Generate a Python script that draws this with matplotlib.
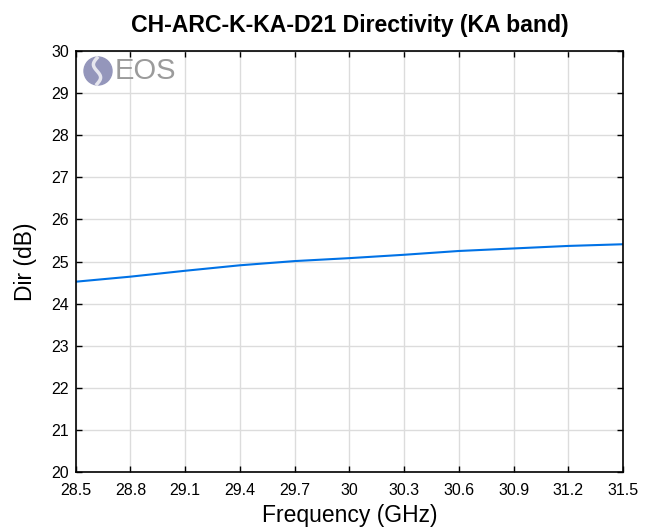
import numpy as np
import matplotlib
matplotlib.use("Agg")
import matplotlib.pyplot as plt
from matplotlib.patches import Circle
from matplotlib.lines import Line2D

plt.rcParams['font.family'] = ['Liberation Sans', 'DejaVu Sans']

# data
freq = [28.5, 28.8, 29.1, 29.4, 29.7, 30.0, 30.3, 30.6, 30.9, 31.2, 31.5]
directivity = [24.52, 24.64, 24.78, 24.91, 25.01, 25.08, 25.16, 25.25, 25.31, 25.37, 25.41]
xticks = [28.5, 28.8, 29.1, 29.4, 29.7, 30, 30.3, 30.6, 30.9, 31.2, 31.5]
xticklabels = ['28.5', '28.8', '29.1', '29.4', '29.7', '30', '30.3', '30.6', '30.9', '31.2', '31.5']
yticks = list(range(20, 31))

fig = plt.figure(figsize=(6.54, 5.32), dpi=100)
ax = fig.add_axes([0.1157, 0.1128, 0.837, 0.7913])

ax.plot(freq, directivity, color='#0072e6', lw=1.5)

ax.set_xlim(28.5, 31.5)
ax.set_ylim(20, 30)
ax.set_xticks(xticks)
ax.set_xticklabels(xticklabels)
ax.set_yticks(yticks)
ax.grid(True, color='#dcdcdc', lw=1)
ax.set_axisbelow(True)
ax.tick_params(direction='in', top=True, right=True, length=4, width=1,
               labelsize=11.5)
ax.tick_params(axis='x', pad=8)
ax.tick_params(axis='y', pad=5)
for s in ax.spines.values():
    s.set_linewidth(1.2)

ax.set_xlabel('Frequency (GHz)', fontsize=16.5, labelpad=4)
ax.set_ylabel('Dir (dB)', fontsize=16.5, labelpad=10)
ax.set_title('CH-ARC-K-KA-D21 Directivity (KA band)', fontsize=16.6,
             fontweight='bold', pad=14)

# EOS logo
H = 532
logo = Circle((98, H - 71), 14, transform=None, color='#9496bb', zorder=5)
fig.patches.append(logo)
t = np.linspace(-1, 1, 30)
sx = 98 + 6 * np.sin(np.pi * t) * 0.6 - 1
sy = H - 71 - 13 * t
fig.lines.append(Line2D(sx, sy, transform=None, color='#e6e6ee', lw=2.5, zorder=6))
fig.text(115 / 654, 1 - 71 / 532, 'EOS', fontsize=21, color='#9b9b9b',
         va='center', ha='left')

fig.savefig('out.png', dpi=100)
